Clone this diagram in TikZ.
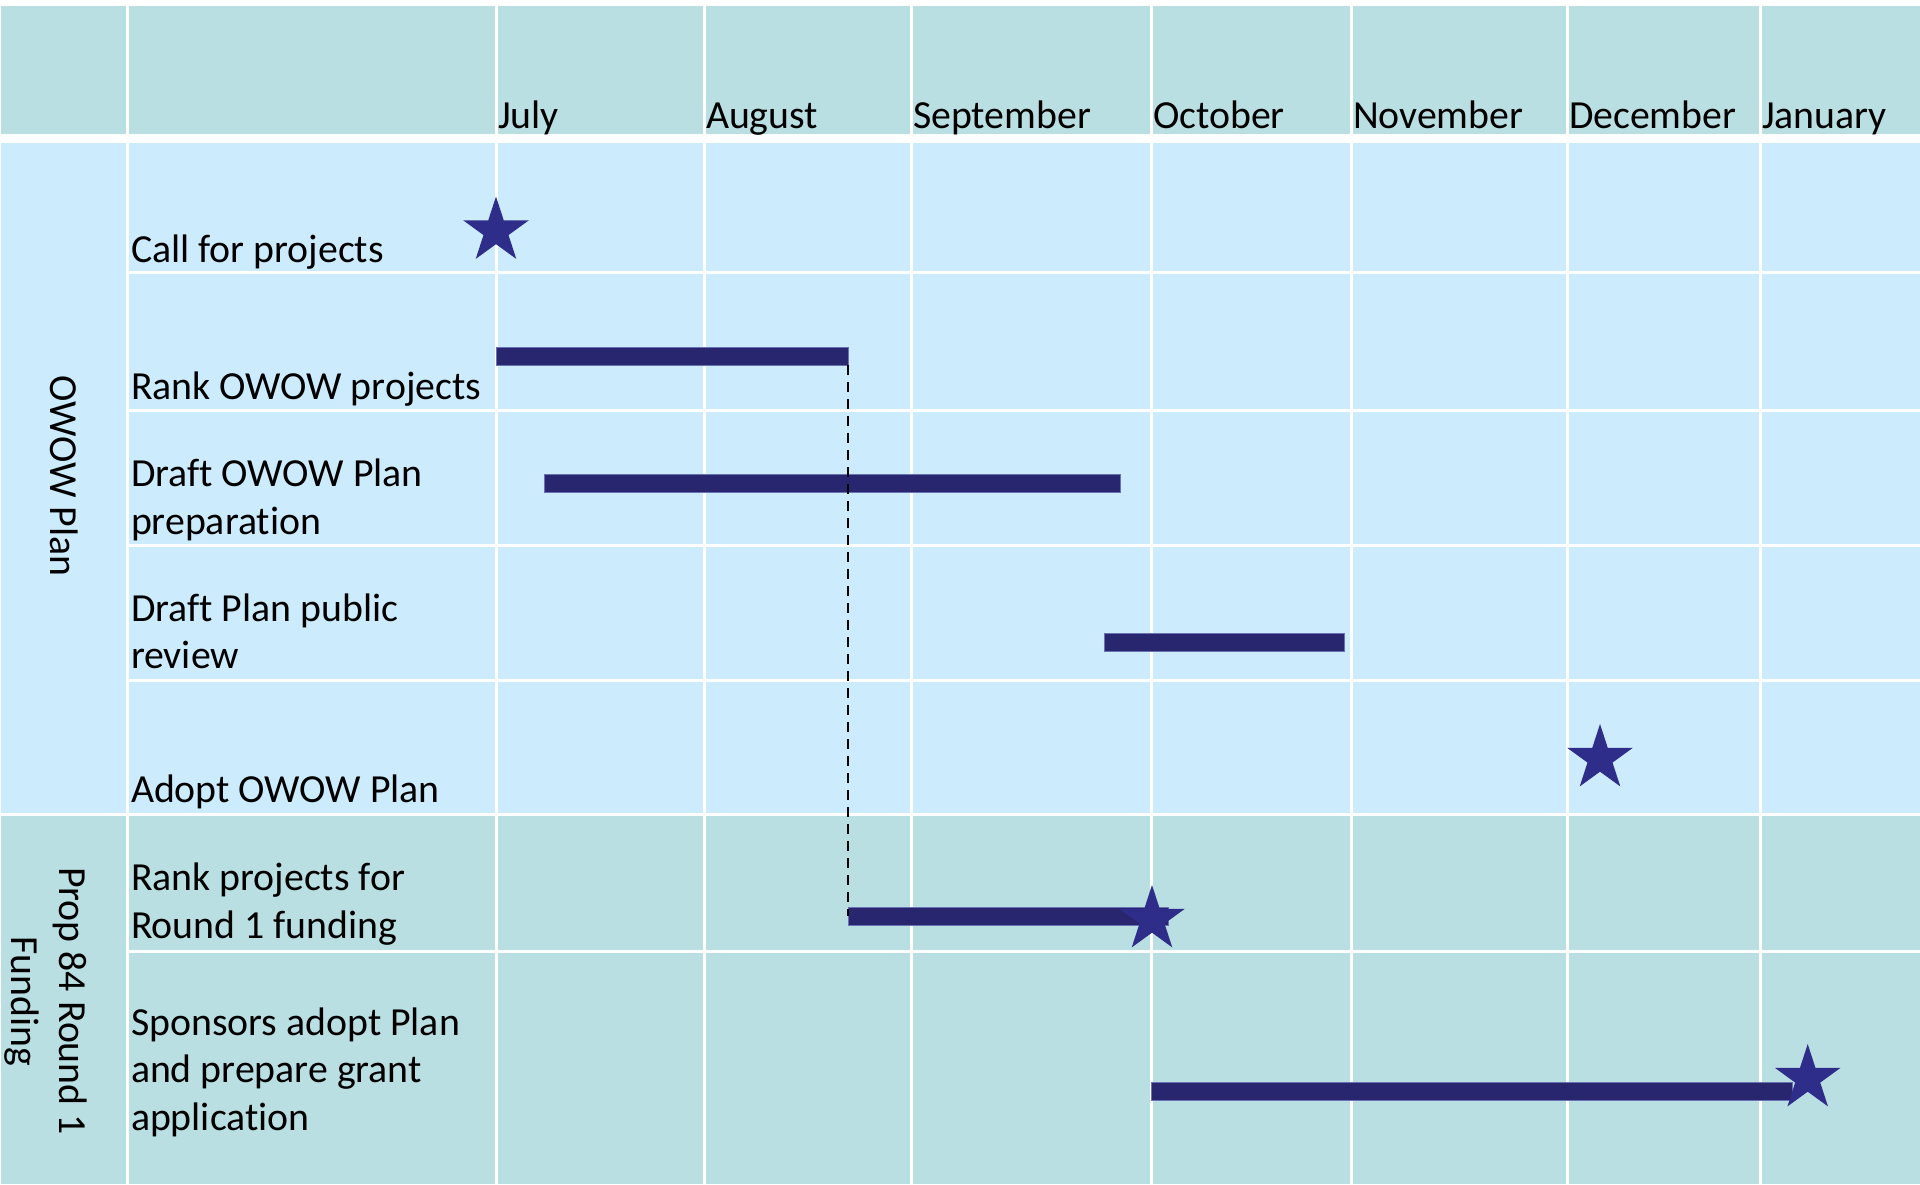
\documentclass[tikz,border=0pt]{standalone}
\usepackage{fontspec}
\setmainfont[Ligatures={NoCommon}]{Carlito}
\usetikzlibrary{shapes.geometric}
\definecolor{hdr}{HTML}{BADFE2}
\definecolor{owow}{HTML}{CCECFD}
\definecolor{barc}{HTML}{28266F}
\definecolor{bare}{HTML}{6A72B2}
\definecolor{starc}{HTML}{2E2D89}
\begin{document}
\begin{tikzpicture}[x=1pt,y=-1pt,
  txt/.style={font=\fontsize{39.8}{47.5}\selectfont, inner sep=0pt, outer sep=0pt, text=black},
  lbl/.style={txt, anchor=base west, align=left},
  mon/.style={txt, anchor=base west},
  gridline/.style={white, line width=3pt},
  bar/.style={fill=barc, draw=bare, line width=0.8pt, inner sep=0pt, outer sep=0pt, minimum height=18pt, anchor=north west},
  mstar/.style={star, star points=5, star point ratio=2.618, fill=starc, draw=none, inner sep=0pt, outer sep=0pt, minimum size=69pt},
  link/.style={black, dashed, dash pattern=on 10pt off 7pt, line width=2.8pt}
]
\useasboundingbox (0,0) rectangle (1920,1184);
\fill[white] (0,0) rectangle (1920,1184);
\fill[hdr] (0,6) rectangle (1920,134);
\fill[owow] (0,143) rectangle (1920,814);
\fill[hdr] (0,814) rectangle (1920,1184);
\foreach \x in {127,496,704,911,1151,1351,1567,1760}
  \draw[gridline] (\x,6) -- (\x,134) (\x,143) -- (\x,1184);
\foreach \y in {272,410,545,680,951}
  \draw[gridline] (127,\y) -- (1920,\y);
\draw[gridline] (0,814) -- (1920,814);
\draw[white, line width=2pt] (0,0) -- (0,1184);

% months
\node[mon] (m1) at (498,128) {July};
\node[mon] (m2) at (706,128) {August};
\node[mon] (m3) at (913,128) {September};
\node[mon] (m4) at (1153,128) {October};
\node[mon] (m5) at (1353,128) {November};
\node[mon] (m6) at (1569,128) {December};
\node[mon] (m7) at (1762,128) {January};

% section labels
\node[txt, rotate=-90, anchor=base] (s1) at (50,476) {OWOW Plan};
\node[txt, rotate=-90, anchor=base, align=center] (s2) at (12,1001) {Prop 84 Round 1\\Funding};

% task labels
\node[lbl] (t1) at (131,262) {Call for projects};
\node[lbl] (t2) at (131,399) {Rank OWOW projects};
\node[lbl] (t3) at (131,534) {Draft OWOW Plan\\preparation};
\node[lbl] (t4) at (131,668.5) {Draft Plan public\\review};
\node[lbl] (t5) at (131,802) {Adopt OWOW Plan};
\node[lbl] (t6) at (131,938) {Rank projects for\\Round 1 funding};
\node[lbl] (t7) at (131,1130) {Sponsors adopt Plan\\and prepare grant\\application};

% bars
\node[bar, minimum width=352pt] (b1) at (496,347) {};
\node[bar, minimum width=576pt] (b2) at (544,474) {};
\node[bar, minimum width=240pt] (b3) at (1104,633) {};
\node[bar, minimum width=320pt] (b4) at (848,907) {};
\node[bar, minimum width=641pt] (b5) at (1151,1082) {};

% dependency
\draw[link] (b1.south east) -- (b4.west);

% milestones
\node[mstar] (st1) at (496,231) {};
\node[mstar] (st2) at (1600,758.5) {};
\node[mstar] (st3) at (1152,919.5) {};
\node[mstar] (st4) at (1807.7,1078.5) {};
\end{tikzpicture}
\end{document}
